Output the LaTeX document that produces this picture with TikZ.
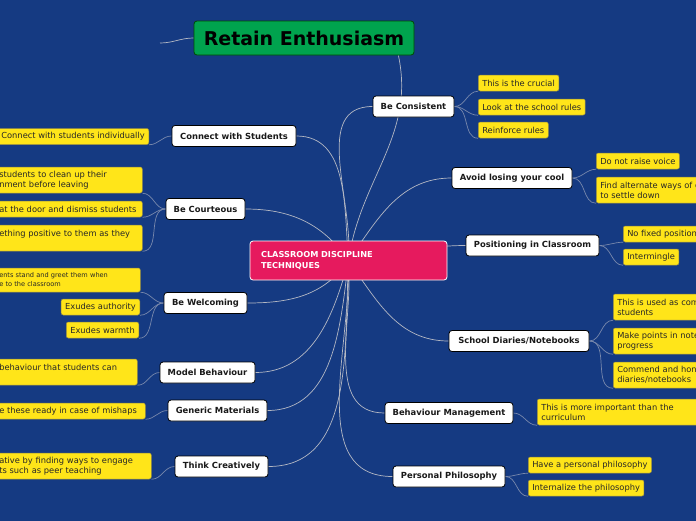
\documentclass[tikz,border=0pt]{standalone}
\usepackage{fontspec}
\setmainfont{DejaVu Sans}
\definecolor{bgblue}{RGB}{21,58,130}
\definecolor{leafyellow}{RGB}{255,229,25}
\definecolor{leafedge}{RGB}{150,140,70}
\definecolor{centerpink}{RGB}{230,26,94}
\definecolor{titlegreen}{RGB}{0,163,78}
\definecolor{linkgray}{RGB}{180,184,196}
\definecolor{sublinkgray}{RGB}{120,136,172}
\pgfdeclarelayer{bg}
\pgfsetlayers{bg,main}
\begin{document}
\begin{tikzpicture}[x=1pt,y=-1pt,
  mainbox/.style={draw=black, fill=white, rounded corners=3pt, line width=0.8pt,
    minimum height=21pt, inner xsep=6pt, inner ysep=0pt,
    font=\fontsize{8.4}{10}\selectfont\bfseries, text=black!90},
  leaf/.style={draw=leafedge, fill=leafyellow, rounded corners=2pt, line width=0.5pt,
    minimum height=16pt, inner xsep=4pt, inner ysep=2.5pt,
    font=\fontsize{8.3}{10}\selectfont, text=black!85, align=left},
  leaftwo/.style={leaf, minimum height=26pt},
  link/.style={draw=linkgray, line width=0.7pt},
  sublink/.style={draw=sublinkgray, line width=0.7pt}]
\useasboundingbox (0,0) rectangle (696,520);

% central and title
\node[draw=white, fill=centerpink, rounded corners=3pt, line width=0.8pt,
  minimum width=197pt, minimum height=39pt, text width=175pt, align=left,
  font=\fontsize{8.2}{11}\selectfont\bfseries, text=white] (cen) at (348.5,260.5)
  {CLASSROOM DISCIPLINE\\TECHNIQUES};
\node[draw=black!70!green, fill=titlegreen, rounded corners=3pt, line width=0.8pt,
  minimum width=220pt, minimum height=34pt, inner xsep=4pt,
  font=\fontsize{19}{22}\selectfont\bfseries, text=black] (title) at (304,38)
  {Retain Enthusiasm};
\coordinate (tfree) at (160,43);

% right main nodes
\node[mainbox, minimum width=81pt]  (cons) at (413.5,106.5) {Be Consistent};
\node[mainbox, minimum width=120pt] (cool) at (512,178) {Avoid losing your cool};
\node[mainbox, minimum width=133pt] (pos)  at (532.5,245.5) {Positioning in Classroom};
\node[mainbox, minimum width=140pt] (diar) at (519,341) {School Diaries/Notebooks};
\node[mainbox, minimum width=128pt] (beh)  at (449,413) {Behaviour Management};
\node[mainbox, minimum width=112pt] (phil) at (449,476.5) {Personal Philosophy};
% left main nodes
\node[mainbox, minimum width=124pt] (conn) at (234,136) {Connect with Students};
\node[mainbox, minimum width=79pt]  (cour) at (205.5,209) {Be Courteous};
\node[mainbox, minimum width=83pt]  (welc) at (205.5,303) {Be Welcoming};
\node[mainbox, minimum width=95pt]  (model) at (207.5,372.5) {Model Behaviour};
\node[mainbox, minimum width=99pt]  (gen)  at (217.5,410.5) {Generic Materials};
\node[mainbox, minimum width=93pt]  (think) at (221.5,466.5) {Think Creatively};

% right leaves
\node[leaf, anchor=west] (c1) at (478,83) {This is the crucial};
\node[leaf, anchor=west] (c2) at (478,107) {Look at the school rules};
\node[leaf, anchor=west] (c3) at (478,130) {Reinforce rules};
\node[leaf, anchor=west] (a1) at (596,161) {Do not raise voice};
\node[leaftwo, anchor=west, text width=200pt] (a2) at (596,190) {Find alternate ways of getting students\\to settle down};
\node[leaf, anchor=west] (p1) at (623,234) {No fixed position};
\node[leaf, anchor=west] (p2) at (623,257) {Intermingle};
\node[leaftwo, anchor=west, text width=200pt] (d1) at (613,307) {This is used as communication with\\students};
\node[leaftwo, anchor=west, text width=200pt] (d2) at (613,341) {Make points in notebooks about\\progress};
\node[leaftwo, anchor=west, text width=200pt] (d3) at (613,375) {Commend and honour good\\diaries/notebooks};
\node[leaftwo, anchor=west, text width=200pt] (b1) at (537,412) {This is more important than the\\curriculum};
\node[leaf, anchor=west] (h1) at (528,465) {Have a personal philosophy};
\node[leaf, anchor=west] (h2) at (528,488) {Internalize the philosophy};

% left leaves
\node[leaf, anchor=east] (n1) at (149,136.5) {Connect with students individually};
\node[leaftwo, anchor=west, text width=139pt] (r1) at (-5,180) {students to clean up their\\nment before leaving};
\node[leaf, anchor=west, text width=139pt] (r2) at (-5,209) {at the door and dismiss students};
\node[leaftwo, anchor=west, text width=139pt] (r3) at (-5,238) {ething positive to them as they\\\mbox{}};
\node[leaftwo, anchor=west, text width=137pt, minimum height=24pt,
  font=\fontsize{6.6}{9}\selectfont] (w1) at (-5,280) {ents stand and greet them when\\e to the classroom};
\node[leaf, anchor=east] (w2) at (140,307) {Exudes authority};
\node[leaf, anchor=east] (w3) at (139,330) {Exudes warmth};
\node[leaftwo, anchor=west, text width=134pt] (m1) at (-5,372) {behaviour that students can\\\mbox{}};
\node[leaf, anchor=west, text width=142pt] (g1) at (-5,411) {e these ready in case of mishaps};
\node[leaftwo, anchor=west, text width=148pt] (t1) at (-5,466) {ative by finding ways to engage\\ts such as peer teaching};

\begin{pgfonlayer}{bg}
\fill[bgblue] (-40,-40) rectangle (760,560);
% centre connectors
\draw[link] (cen.center) to[out=85,in=180] (cons.west);
\draw[link] (cen.center) to[out=82,in=-78] ([xshift=-16pt]title.south east);
\draw[link] (cen.center) to[out=55,in=180] (cool.west);
\draw[link] (cen.center) to[out=5,in=180] (pos.west);
\draw[link] (cen.center) to[out=-55,in=180] (diar.west);
\draw[link] (cen.center) to[out=-85,in=180] (beh.west);
\draw[link] (cen.center) to[out=-88,in=180] (phil.west);
\draw[link] (cen.center) to[out=95,in=0] (conn.east);
\draw[link] (cen.center) to[out=125,in=0] (cour.east);
\draw[link] (cen.center) to[out=-125,in=0] (welc.east);
\draw[link] (cen.center) to[out=-105,in=0] (model.east);
\draw[link] (cen.center) to[out=-97,in=0] (gen.east);
\draw[link] (cen.center) to[out=-93,in=0] (think.east);
\draw[link] (tfree) to[out=0,in=180] (title.west);
% leaf connectors right
\foreach \p/\l in {cons/c1,cons/c2,cons/c3,cool/a1,cool/a2,pos/p1,pos/p2,diar/d1,diar/d2,diar/d3,beh/b1,phil/h1,phil/h2}
  \draw[sublink] (\p.east) to[out=0,in=180] (\l.south west);
% leaf connectors left
\foreach \p/\l in {conn/n1,cour/r1,cour/r2,cour/r3,welc/w1,welc/w2,welc/w3,model/m1,gen/g1,think/t1}
  \draw[sublink] (\p.west) to[out=180,in=0] (\l.south east);
\end{pgfonlayer}
\end{tikzpicture}
\end{document}
